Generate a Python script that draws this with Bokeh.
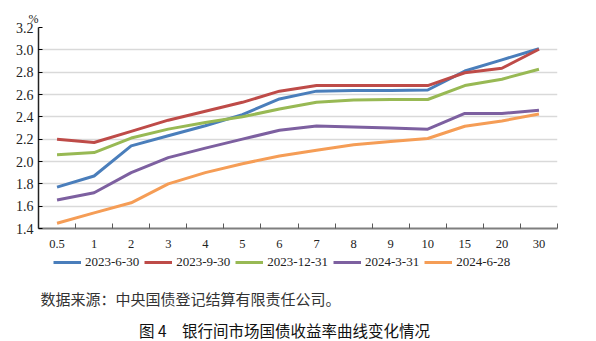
from bokeh.plotting import figure
from bokeh.layouts import column
from bokeh.models import (Range1d, FixedTicker, Legend, LegendItem, Label, Title, CustomJSTickFormatter)
from bokeh.embed import file_html
from bokeh.resources import INLINE

categories = ["0.5", "1", "2", "3", "4", "5", "6", "7", "8", "9", "10", "15", "20", "30"]
s_20230630 = [1.77, 1.87, 2.14, 2.23, 2.32, 2.42, 2.56, 2.63, 2.635, 2.635, 2.64, 2.81, 2.91, 3.01]
s_20230930 = [2.20, 2.17, 2.27, 2.37, 2.45, 2.53, 2.63, 2.68, 2.68, 2.68, 2.68, 2.795, 2.835, 3.005]
s_20231231 = [2.06, 2.08, 2.21, 2.29, 2.35, 2.40, 2.47, 2.53, 2.55, 2.555, 2.555, 2.68, 2.737, 2.826]
s_20240331 = [1.655, 1.72, 1.90, 2.035, 2.12, 2.20, 2.28, 2.318, 2.31, 2.30, 2.289, 2.43, 2.43, 2.459]
s_20240628 = [1.447, 1.54, 1.63, 1.80, 1.90, 1.98, 2.05, 2.10, 2.15, 2.18, 2.206, 2.316, 2.363, 2.426]
series_names = ["2023-6-30", "2023-9-30", "2023-12-31", "2024-3-31", "2024-6-28"]
series_values = [s_20230630, s_20230930, s_20231231, s_20240331, s_20240628]
colors = ["#4A7EBB", "#BE4B48", "#98B954", "#7D60A0", "#F59D56"]
y_ticks = [1.4, 1.6, 1.8, 2.0, 2.2, 2.4, 2.6, 2.8, 3.0, 3.2]
unit_label = "%"
source_text = "数据来源：中央国债登记结算有限责任公司。"
caption_text = "图 4　银行间市场国债收益率曲线变化情况"

SERIF = "Liberation Serif"
CJK = "Noto Sans CJK SC"

n = len(categories)
xs = [i + 0.5 for i in range(n)]
BL, BR = 38, 39  # left / right borders of the plotting frame

# ---------- main chart ----------
H1 = 254
p = figure(width=596, height=H1, output_backend="svg", toolbar_location=None,
           x_range=Range1d(0, n), y_range=Range1d(1.4, 3.2),
           min_border_left=BL, min_border_right=BR, min_border_top=27, min_border_bottom=26)
p.outline_line_color = None

for vals, c in zip(series_values, colors):
    p.line(xs, vals, line_color=c, line_width=3)

p.xaxis.ticker = FixedTicker(ticks=xs, minor_ticks=list(range(1, n + 1)))
p.xaxis.major_label_overrides = {x: c for x, c in zip(xs, categories)}
p.xaxis.major_tick_in = 0
p.xaxis.major_tick_out = 0
p.xaxis.minor_tick_in = 5
p.xaxis.minor_tick_out = 0
p.xaxis.minor_tick_line_color = "#5a5a5a"
p.xaxis.axis_line_color = "#7f7f7f"
p.xaxis.axis_line_width = 2
p.xaxis.major_label_text_font = SERIF
p.xaxis.major_label_text_font_size = "12.5px"
p.xaxis.major_label_text_color = "#222222"
p.xaxis.major_label_standoff = 11
p.xgrid.visible = False

p.yaxis.ticker = FixedTicker(ticks=y_ticks)
p.yaxis.formatter = CustomJSTickFormatter(code="return tick.toFixed(1);")
p.yaxis.major_tick_in = 4
p.yaxis.major_tick_out = 0
p.yaxis.minor_tick_line_color = None
p.yaxis.axis_line_color = "#222222"
p.yaxis.axis_line_width = 1.5
p.yaxis.major_label_text_font = SERIF
p.yaxis.major_label_text_font_size = "14px"
p.yaxis.major_label_text_color = "#222222"
p.yaxis.major_label_standoff = 5
p.ygrid.grid_line_color = "#d9d9d9"
p.ygrid.grid_line_width = 1.5

p.add_layout(Title(text=unit_label, align="left", offset=-10, standoff=4,
                   text_font=SERIF, text_font_size="12px", text_font_style="normal",
                   text_color="#222222"), "above")

# ---------- legend + captions (frame aligned with the chart's frame) ----------
H2 = 341 - H1
q = figure(width=596, height=H2, output_backend="svg", toolbar_location=None,
           x_range=Range1d(BL, 596 - BR), y_range=Range1d(H2, 0),
           x_axis_type=None, y_axis_type=None,
           min_border_left=BL, min_border_right=BR, min_border_top=0, min_border_bottom=0)
q.outline_line_color = None
q.grid.visible = False

items = []
for nm, vals, c in zip(series_names, series_values, colors):
    # legend proxies: same series, mirrored below zero so they stay out of view
    r = q.line(x=xs, y=[-v for v in vals], line_color=c, line_width=3)
    items.append(LegendItem(label=nm, renderers=[r]))

legend = Legend(items=items, orientation="horizontal", location=(53 - BL, H2 - 16),
                label_text_font=SERIF, label_text_font_size="13px", label_text_color="#222222",
                glyph_width=28, glyph_height=12, label_standoff=4, spacing=5,
                padding=0, margin=0, border_line_color=None, background_fill_alpha=0)
q.add_layout(legend, "center")

q.add_layout(Label(x=40, y=44, text=source_text, text_baseline="middle",
                   text_font=CJK, text_font_size="15px", text_color="#333333"))
q.add_layout(Label(x=284, y=75, text=caption_text, text_align="center", text_baseline="middle",
                   text_font=CJK, text_font_size="15.5px", text_color="#111111"))

layout = column(p, q, spacing=0)
open("out.html", "w").write(file_html(layout, INLINE))
